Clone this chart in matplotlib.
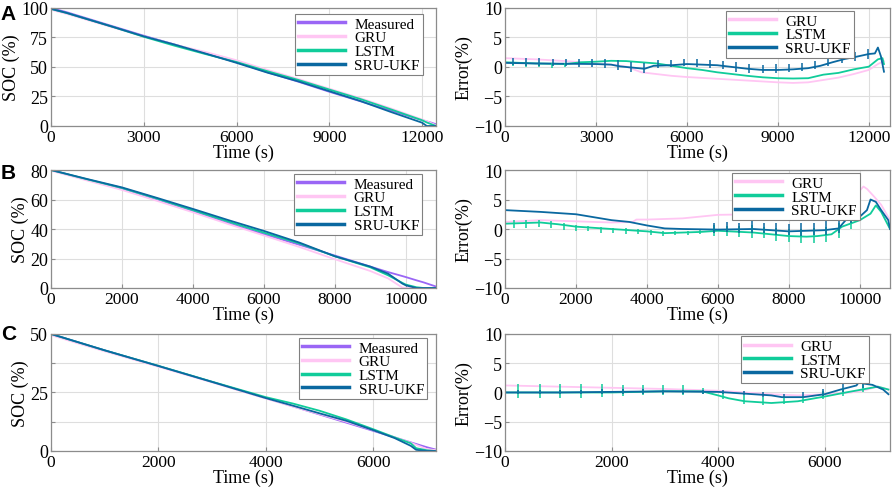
import matplotlib
matplotlib.use("Agg")
import matplotlib.pyplot as plt

plt.rcParams['font.family'] = ['Liberation Serif', 'DejaVu Serif']

# colours
c_meas = '#9a66f5'
c_gru = '#ffc6f3'
c_lstm = '#10cc9a'
c_sru = '#0a68a0'

# ---------------- panel A ----------------
t_a_soc = [0, 500, 1000, 2000, 3000, 4000, 5000, 6000, 7000, 8000, 9000, 10000,
           11000, 12000, 12150, 12300, 12450]
meas_a = [100, 96.5, 92.5, 84.5, 76.5, 69, 61.5, 54, 45.5, 37.5, 29, 21, 13, 5,
          3.9, 2.8, 1.5]
gru_a = [98.5, 95.1, 91.2, 83.5, 75.9, 68.9, 62.7, 55.7, 47.5, 39.8, 31.6, 23.6,
         14.8, 5.5, 4.0, 2.3, 0.5]
lstm_a = [99.2, 95.8, 91.9, 84.0, 75.6, 68.0, 60.9, 54.2, 46.4, 39.0, 30.9, 22.9,
          14.0, 4.9, 3.0, 1.5, 0]
sru_a = [99.3, 95.9, 91.9, 84.0, 76.0, 69.0, 61.4, 53.5, 45.2, 37.8, 29.5, 21.2,
         11.8, 2.8, 0, 0, 0]

t_a_gru = [0, 1000, 2000, 3000, 3500, 4000, 4500, 5000, 5500, 6000, 7000, 8000,
           9000, 9500, 10000, 10500, 11000, 11500, 12000, 12300, 12500]
err_a_gru = [1.5, 1.3, 1.0, 0.6, 0.4, 0.06, -0.9, -1.2, -1.5, -1.7, -2.0, -2.3,
             -2.6, -2.7, -2.6, -2.2, -1.8, -1.2, -0.5, 0.5, 1.0]
t_a_lstm = [0, 1000, 2000, 2500, 3000, 3500, 4000, 4500, 5000, 5500, 6000, 6500,
            7000, 8000, 8500, 9000, 9500, 10000, 10500, 11000, 11500, 12000,
            12300, 12450, 12500]
err_a_lstm = [0.8, 0.6, 0.5, 0.8, 0.9, 1.05, 1.0, 0.8, 0.6, 0.2, -0.2, -0.5,
              -0.9, -1.5, -1.75, -1.9, -1.95, -1.9, -1.3, -1.0, -0.4, 0.06,
              1.3, 1.5, 0.5]
t_a_sru = [0, 1000, 2000, 3000, 3500, 3800, 4200, 4600, 4900, 5500, 6000, 6500,
           7000, 7500, 8000, 8500, 9000, 9500, 10000, 10400, 10800, 11200,
           11600, 12000, 12200, 12300, 12400, 12500]
err_a_sru = [0.7, 0.6, 0.55, 0.5, 0.4, 0.1, -0.1, -0.3, 0.2, 0.3, 0.5, 0.4, 0.3,
             0.0, -0.3, -0.5, -0.5, -0.4, -0.2, 0.2, 0.8, 1.35, 1.75, 2.2, 2.3,
             3.3, 1.8, -0.8]
spk_a_t = [270, 700, 1130, 1570, 2000, 2430, 2870, 3300, 3730, 4160, 4600, 5030,
           5460, 5900, 6330, 6760, 7200, 7630, 8060, 8500, 8930, 9360, 9800,
           10230, 10660, 11100, 11530, 11960]
spk_a_sru_hi = [1.6, 1.5, 1.5, 1.4, 1.4, 1.3, 1.3, 1.3, 1.2, 0.8, 0.6, 1.2, 1.2,
                1.4, 1.3, 1.2, 1.0, 0.8, 0.5, 0.4, 0.5, 0.5, 0.7, 1.1, 1.7, 2.2,
                2.6, 3.0]
spk_a_sru_lo = [0.3, 0.2, 0.2, 0.2, 0.1, 0.0, 0.0, -0.2, -0.5, -0.8, -1.0, -0.2,
                0.0, 0.1, 0.0, -0.2, -0.4, -0.8, -1.0, -1.0, -1.0, -0.8, -0.6,
                -0.4, 0.2, 0.6, 1.0, 1.4]
spk_a_lstm_t = [250, 690, 1120, 1560, 1990]
spk_a_lstm_hi = [0.9, 0.8, 0.7, 0.7, 0.6]
spk_a_lstm_lo = [0.1, 0.0, 0.0, -0.1, 0.0]

# ---------------- panel B ----------------
t_b_soc = [0, 1000, 2000, 3000, 4000, 5000, 6000, 7000, 8000, 9000, 9500, 9900,
           10000, 10300, 10500, 10850]
meas_b = [80, 73.5, 67, 59.5, 52, 44, 36.5, 29.3, 22, 14.5, 10.8, 8.1, 7.4, 5.2,
          3.8, 1.0]
gru_b = [79.5, 73, 66.5, 59, 51.3, 43.3, 35.6, 27.8, 19.5, 11.5, 6.5, 0.3, 0, 0,
         0, 0]
lstm_b = [80, 73.8, 67.8, 60.5, 52.8, 45, 37.5, 30.2, 21.5, 14, 8.6, 3.5, 2.3,
          0.5, 0, 0]
sru_b = [80, 74, 68.2, 61, 53.6, 46, 38.7, 30.8, 21.5, 14.5, 9.7, 3.0, 1.8, 0,
         0, 0]

t_b_gru = [0, 1000, 2000, 3000, 3600, 3700, 4000, 5000, 6000, 7000, 8000, 9000,
           9500, 9800, 9900, 9950, 10100, 10200, 10400, 10600, 10850]
err_b_gru = [1.2, 1.5, 1.3, 1.1, 1.2, 1.6, 1.6, 1.8, 2.4, 2.5, 2.8, 3.5, 4.4,
             5.2, 7.3, 6.2, 7.2, 6.8, 5.5, 4.1, 1.5]
t_b_lstm = [0, 500, 1000, 1500, 2000, 2500, 3000, 3500, 4000, 4500, 5000, 5500,
            6000, 7000, 8000, 8500, 8800, 9200, 9500, 10000, 10300, 10450,
            10600, 10850]
err_b_lstm = [0.9, 1.0, 1.1, 0.8, 0.4, 0.2, 0.0, -0.2, -0.4, -0.7, -0.6, -0.5,
              -0.3, -0.6, -1.2, -1.3, -1.2, -0.9, 0.4, 1.5, 2.6, 4.0, 2.9, 0.0]
t_b_sru = [0, 1000, 2000, 3000, 3500, 4000, 4500, 5000, 6000, 7000, 8000, 9000,
           9400, 9600, 10000, 10200, 10300, 10450, 10600, 10800, 10850]
err_b_sru = [3.2, 2.9, 2.5, 1.5, 1.2, 0.6, 0.1, 0.0, -0.1, 0.0, -0.4, -0.2, 0.1,
             1.5, 2.1, 3.2, 5.0, 4.6, 3.2, 1.5, 0.0]
spk_b_t = [5900, 6250, 6600, 6950, 7300, 7650, 8000, 8350, 8700, 9050, 9400,
           9750]
spk_b_sru_hi = [1.0, 1.2, 1.0, 1.3, 1.0, 1.0, 0.9, 1.0, 1.1, 1.3, 2.0, 3.5]
spk_b_sru_lo = [-0.6, -0.5, -0.7, -0.6, -0.7, -1.0, -1.1, -1.2, -1.1, -1.0,
                -0.6, 1.0]
spk_b_lstm_hi = [0.6, 0.5, 0.5, 0.6, 0.4, 0.2, 0.0, 0.0, 0.1, 0.3, 1.0, 2.5]
spk_b_lstm_lo = [-1.2, -1.2, -1.3, -1.5, -1.6, -2.0, -2.2, -2.4, -2.3, -2.2,
                 -1.5, 0.0]
spk_b_early_t = [250, 600, 950, 1300, 1650, 2000, 2350, 2700, 3050, 3400, 3750,
                 4100, 4450, 4800, 5150, 5500]
spk_b_early_hi = [1.5, 1.5, 1.5, 1.3, 1.0, 0.7, 0.5, 0.3, 0.2, 0.1, 0.0, -0.2,
                  -0.4, -0.3, -0.3, -0.2]
spk_b_early_lo = [0.1, 0.2, 0.3, 0.2, -0.1, -0.3, -0.4, -0.6, -0.6, -0.8, -0.9,
                  -1.0, -1.2, -1.1, -1.0, -0.9]

# ---------------- panel C ----------------
t_c_soc = [0, 500, 1000, 2000, 3000, 4000, 4500, 5000, 5500, 6000, 6400, 6700,
           6800, 7000, 7150]
meas_c = [50, 46.5, 43, 36.3, 29.5, 22.6, 19.1, 15.6, 12.1, 8.6, 5.8, 3.7, 3.0,
          1.6, 0.7]
gru_c = [49.5, 46, 42.6, 36.0, 29.3, 22.4, 19.0, 15.8, 12.5, 8.9, 5.9, 3.5, 2.6,
         0.8, 0.4]
lstm_c = [50, 46.5, 43, 36.4, 29.6, 23.0, 20.3, 17.2, 13.5, 9.3, 5.8, 3.3, 1.2,
          0.3, 0]
sru_c = [50, 46.5, 43, 36.3, 29.5, 22.6, 19.4, 16.1, 12.9, 8.9, 5.5, 2.2, 0.5, 0,
         0]

t_c_gru = [0, 1000, 2000, 3000, 4000, 4500, 5000, 5500, 6000, 6500, 6800, 7000,
           7200]
err_c_gru = [1.2, 1.0, 0.8, 0.6, 0.3, 0.0, -0.3, -0.5, -0.3, 0.0, 0.5, 1.0, 0.5]
t_c_lstm = [0, 1000, 2000, 3000, 3700, 4000, 4200, 4500, 5000, 5500, 6000, 6400,
            6700, 7000, 7200]
err_c_lstm = [0.0, 0.0, 0.0, 0.2, 0.2, -0.5, -1.0, -1.5, -1.8, -1.5, -0.7, 0.0,
              0.5, 1.0, 0.5]
t_c_sru = [0, 1000, 2000, 3000, 4000, 4500, 5000, 5200, 5600, 6000, 6300, 6600,
           6700, 6750, 6900, 7100, 7200]
err_c_sru = [0.0, 0.0, 0.1, 0.2, 0.1, -0.2, -0.5, -0.8, -0.8, -0.3, 0.5, 1.2,
             2.5, 1.5, 1.3, 0.5, -0.3]
spk_c_t = [250, 650, 1030, 1420, 1820, 2220, 2600, 2970, 3350, 3720, 4100, 4480,
           4850, 5230, 5600, 5980, 6350, 6730]
spk_c_lstm_hi = [1.4, 1.4, 1.4, 1.4, 1.4, 1.3, 1.3, 1.2, 1.2, 0.8, 0.0, -0.5,
                 -0.8, -0.8, -0.6, 0.2, 0.8, 1.5]
spk_c_lstm_lo = [-1.0, -1.0, -0.9, -0.9, -0.8, -0.6, -0.5, -0.4, -0.4, -0.3,
                 -1.2, -2.0, -2.2, -2.0, -1.8, -1.2, -0.6, 0.0]
spk_c_sru_hi = [0.5, 0.5, 0.5, 0.5, 0.6, 0.6, 0.6, 0.5, 0.5, 0.5, 0.4, 0.2, 0.0,
                -0.2, 0.0, 0.6, 1.5, 2.8]
spk_c_sru_lo = [-0.3, -0.3, -0.3, -0.3, -0.2, -0.2, -0.2, -0.2, -0.2, -0.2,
                -0.2, -0.5, -0.8, -1.0, -1.0, -0.6, 0.0, 0.8]

LW = 1.3
FS_X = 12.5
FS_Y = 13
FS_LEG = 11


def style_axes(ax, xmax, xticks, ylim, yticks):
    """Common MATLAB-like look for one panel"""
    ax.set_xlim(0, xmax)
    ax.set_ylim(*ylim)
    ax.set_xticks(xticks)
    ax.set_yticks(yticks)
    ax.grid(True, color='0.87', lw=0.8)
    ax.set_axisbelow(True)
    for s in ax.spines.values():
        s.set_color('0.55')
        s.set_linewidth(0.9)
    ax.tick_params(direction='in', length=3, color='0.55', pad=2)
    ax.tick_params(axis='x', labelsize=FS_X)
    ax.tick_params(axis='y', labelsize=FS_Y)
    ax.set_xlabel('Time (s)', fontsize=13, labelpad=-1)


def add_legend(ax, labels, anchor):
    """Boxed legend in the upper right, MATLAB style"""
    leg = ax.legend(labels, loc='upper right', bbox_to_anchor=anchor,
                    borderaxespad=0, fontsize=FS_LEG, frameon=True,
                    fancybox=False, framealpha=1, edgecolor='0.5',
                    handlelength=3.1, handletextpad=0.6, labelspacing=0.0,
                    borderpad=0.2)
    leg.get_frame().set_linewidth(0.8)
    for ln in leg.get_lines():
        ln.set_linewidth(2.5)
    return leg


fig = plt.figure(figsize=(8.92, 4.89), dpi=100)

lx, rx, w = 0.0572, 0.5662, 0.4316
rows = [(0.7403, 0.2413), (0.4090, 0.2413), (0.0757, 0.2393)]

# ---- SOC panels ----
soc_data = [
    (t_a_soc, meas_a, gru_a, lstm_a, sru_a, 12450, [0, 3000, 6000, 9000, 12000],
     (0, 100), [0, 25, 50, 75, 100], (0.966, 0.949)),
    (t_b_soc, meas_b, gru_b, lstm_b, sru_b, 10850,
     [0, 2000, 4000, 6000, 8000, 10000], (0, 80), [0, 20, 40, 60, 80],
     (0.964, 0.966)),
    (t_c_soc, meas_c, gru_c, lstm_c, sru_c, 7170, [0, 2000, 4000, 6000],
     (0, 50), [0, 12.5, 25, 37.5, 50], (0.977, 0.966)),
]
for (b, h), d in zip(rows, soc_data):
    t, me, gr, ls, sr, xmax, xt, yl, yt, anc = d
    ax = fig.add_axes([lx, b, w, h])
    ax.plot(t, me, color=c_meas, lw=LW)
    ax.plot(t, gr, color=c_gru, lw=LW)
    ax.plot(t, ls, color=c_lstm, lw=LW)
    ax.plot(t, sr, color=c_sru, lw=LW)
    style_axes(ax, xmax, xt, yl, yt)
    if yl[1] == 50:
        ax.set_yticklabels(['0', '', '25', '', '50'])
    ax.set_ylabel('SOC (%)', fontsize=13, labelpad=1)
    add_legend(ax, ['Measured', 'GRU', 'LSTM', 'SRU-UKF'], anc)

# ---- error panels ----
err_data = [
    ((t_a_gru, err_a_gru), (t_a_lstm, err_a_lstm), (t_a_sru, err_a_sru),
     [(spk_a_lstm_t, spk_a_lstm_lo, spk_a_lstm_hi, c_lstm),
      (spk_a_t, spk_a_sru_lo, spk_a_sru_hi, c_sru)],
     12700, [0, 3000, 6000, 9000, 12000], (0.906, 0.975)),
    ((t_b_gru, err_b_gru), (t_b_lstm, err_b_lstm), (t_b_sru, err_b_sru),
     [(spk_b_early_t, spk_b_early_lo, spk_b_early_hi, c_lstm),
      (spk_b_t, spk_b_lstm_lo, spk_b_lstm_hi, c_lstm),
      (spk_b_t, spk_b_sru_lo, spk_b_sru_hi, c_sru)],
     10850, [0, 2000, 4000, 6000, 8000, 10000], (0.922, 0.974)),
    ((t_c_gru, err_c_gru), (t_c_lstm, err_c_lstm), (t_c_sru, err_c_sru),
     [(spk_c_t, spk_c_lstm_lo, spk_c_lstm_hi, c_lstm),
      (spk_c_t, spk_c_sru_lo, spk_c_sru_hi, c_sru)],
     7230, [0, 2000, 4000, 6000], (0.945, 0.98)),
]
for (b, h), d in zip(rows, err_data):
    g, l, s, spikes, xmax, xt, anc = d
    ax = fig.add_axes([rx, b, w, h])
    ax.plot(g[0], g[1], color=c_gru, lw=LW)
    ax.plot(l[0], l[1], color=c_lstm, lw=LW)
    ax.plot(s[0], s[1], color=c_sru, lw=LW)
    for st, lo, hi, col in spikes:
        ax.vlines(st, lo, hi, color=col, lw=1.1)
    style_axes(ax, xmax, xt, (-10, 10), [-10, -5, 0, 5, 10])
    ax.set_ylabel('Error(%)', fontsize=13, labelpad=1)
    add_legend(ax, ['GRU', 'LSTM', 'SRU-UKF'], anc)

# panel letters
for letter, y in [('A', 0.99), ('B', 0.665), ('C', 0.335)]:
    fig.text(0.001, y, letter, fontsize=15, fontweight='bold', va='top',
             family=['Liberation Sans', 'DejaVu Sans'])

fig.savefig('out.png', dpi=100)
